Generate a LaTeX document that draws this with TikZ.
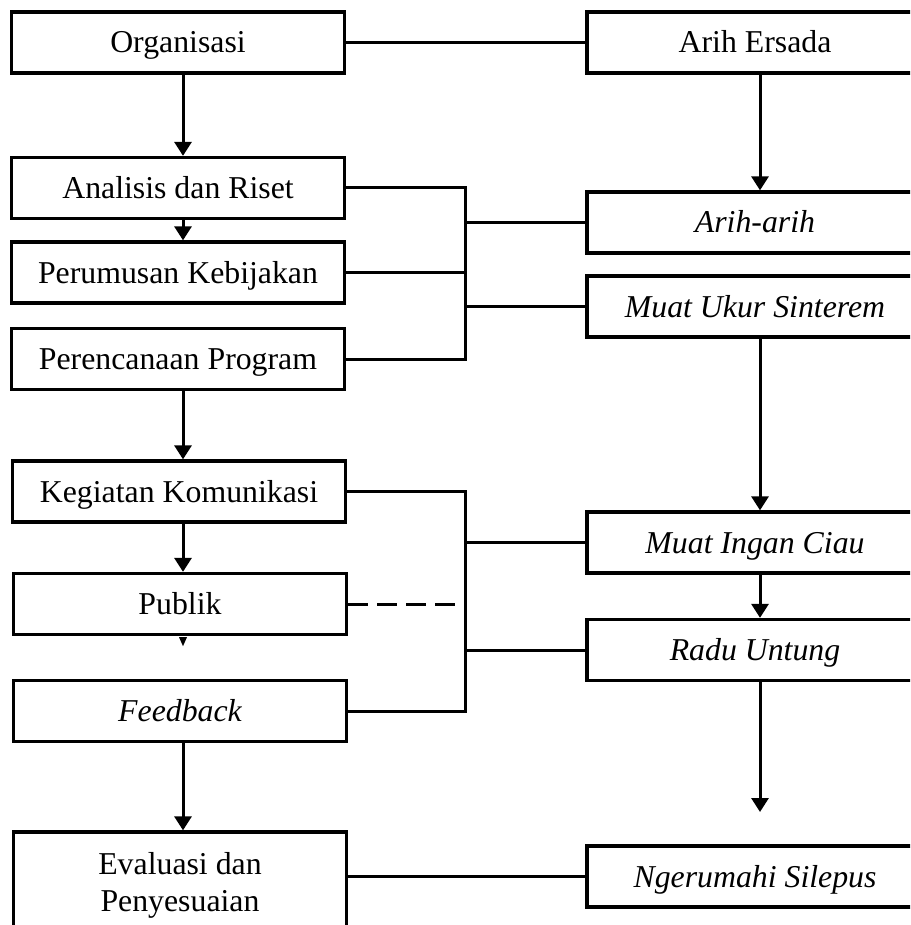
\documentclass[tikz,border=0pt]{standalone}
\usepackage{fontspec}
\setmainfont{Liberation Serif}
\usetikzlibrary{arrows.meta,calc}
\begin{document}
\begin{tikzpicture}[x=1pt,y=-1pt,
 basebox/.style={draw,line width=3.3pt,minimum width=333pt,minimum height=61pt,inner sep=0pt,font=\fontsize{31.8}{37}\selectfont,align=center},
 box/.style={basebox,text height=21pt,text depth=0pt},
 rbox/.style={box,minimum width=336pt},
 conn/.style={line width=3pt},
 arr/.style={conn,-{Triangle[width=17pt,length=14pt]}},
 dashconn/.style={conn,dash pattern=on 20pt off 9pt}]
\useasboundingbox (0,0) rectangle (910,925);
\clip (0,0) rectangle (910,925);
\coordinate (lx) at (183,0);
\coordinate (rx) at (760,0);
\coordinate (bx) at (465,0);
% left column
\node[box] (org) at (178,42.5) {Organisasi};
\node[box] (ana) at (178,188) {Analisis dan Riset};
\node[box] (pk) at (178,272.5) {Perumusan Kebijakan};
\node[box] (pp) at (178,359) {Perencanaan Program};
\node[box] (kk) at (179,491.5) {Kegiatan Komunikasi};
\node[box] (pub) at (180,604) {Publik};
\node[box] (fb) at (180,711) {\itshape Feedback};
\node[basebox,minimum height=106pt] (eva) at (180,885) {Evaluasi dan\\Penyesuaian};
% right column
\node[rbox] (ae) at (755,42.5) {Arih Ersada};
\node[rbox] (aa) at (755,222.5) {\itshape Arih-arih};
\node[rbox] (mus) at (755,306.5) {\itshape Muat Ukur Sinterem};
\node[rbox] (mic) at (755,542.5) {\itshape Muat Ingan Ciau};
\node[rbox] (ru) at (755,650) {\itshape Radu Untung};
\node[rbox] (ng) at (755,876.5) {\itshape Ngerumahi Silepus};
\coordinate (rend) at (760,812);
% left arrows
\draw[arr] (org.south -| lx) -- (ana.north -| lx);
\draw[arr] (ana.south -| lx) -- (pk.north -| lx);
\draw[arr] (pp.south -| lx) -- (kk.north -| lx);
\draw[arr] (kk.south -| lx) -- (pub.north -| lx);
\fill ($(pub.south -| lx)+(-4,1)$) -- ++(8,0) -- ($(pub.south -| lx)+(0,10)$) -- cycle;
\draw[arr] (fb.south -| lx) -- (eva.north -| lx);
% right arrows
\draw[arr] (ae.south -| rx) -- (aa.north -| rx);
\draw[arr] (mus.south -| rx) -- (mic.north -| rx);
\draw[arr] (mic.south -| rx) -- (ru.north -| rx);
\draw[arr] (ru.south -| rx) -- (rend);
% horizontal links
\draw[conn] (org.east) -- (ae.west);
\draw[conn] (eva.east |- ng.west) -- (ng.west);
% upper bracket
\draw[conn] (ana.east) -- (ana.east -| bx) -- (pp.east -| bx) -- (pp.east);
\draw[conn] (pk.east) -- (pk.east -| bx);
\draw[conn] (aa.west -| bx) -- (aa.west);
\draw[conn] (mus.west -| bx) -- (mus.west);
% lower bracket
\draw[conn] (kk.east) -- (kk.east -| bx) -- (fb.east -| bx) -- (fb.east);
\draw[conn] (mic.west -| bx) -- (mic.west);
\draw[conn] (ru.west -| bx) -- (ru.west);
\coordinate (dend) at (458,0);
\draw[dashconn] (pub.east) -- (pub.east -| dend);
\end{tikzpicture}
\end{document}
